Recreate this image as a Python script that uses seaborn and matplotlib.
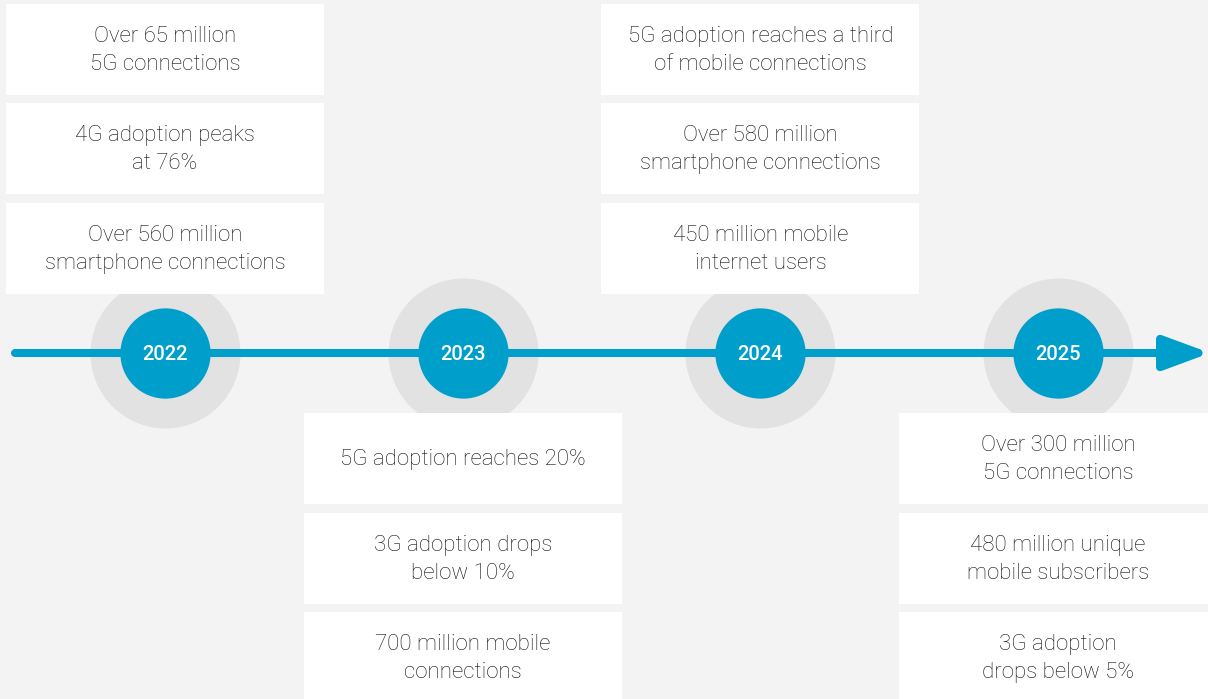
import matplotlib
matplotlib.use("Agg")
import matplotlib.pyplot as plt
from matplotlib.patches import Rectangle
import seaborn as sns
import pandas as pd

# ------------------- Data -------------------
years = [2022, 2023, 2024, 2025]
side = ["above", "below", "above", "below"]

milestones_2022 = ["Over 65 million\n5G connections",
                   "4G adoption peaks\nat 76%",
                   "Over 560 million\nsmartphone connections"]
milestones_2023 = ["5G adoption reaches 20%",
                   "3G adoption drops\nbelow 10%",
                   "700 million mobile\nconnections"]
milestones_2024 = ["5G adoption reaches a third\nof mobile connections",
                   "Over 580 million\nsmartphone connections",
                   "450 million mobile\ninternet users"]
milestones_2025 = ["Over 300 million\n5G connections",
                   "480 million unique\nmobile subscribers",
                   "3G adoption\ndrops below 5%"]
milestones = [milestones_2022, milestones_2023, milestones_2024, milestones_2025]

# ------------------- Style -------------------
BG = "#f3f3f3"
BLUE = "#009ecb"
HALO = "#e2e2e2"
TEXT = "#111111"

sns.set_theme(style="white")
plt.rcParams["font.family"] = ["Roboto", "DejaVu Sans"]

fig = plt.figure(figsize=(12.08, 6.99), dpi=100, facecolor=BG)
ax = fig.add_axes([0, 0, 1, 1])
ax.set_facecolor(BG)

# x in years, y in pixel rows (top = 0)
px_per_year = 297.7
x0 = 2022 - 165 / px_per_year
ax.set_xlim(x0, x0 + 1208 / px_per_year)
ax.set_ylim(699, 0)
ax.axis("off")

line_y = 353
box_w = 318 / px_per_year
box_h = 91
above_tops = [4, 103, 203]
below_tops = [413, 513, 612]

# timeline arrow
ax.annotate("", xy=(x0 + 1210 / px_per_year, line_y), xytext=(x0 + 15 / px_per_year, line_y),
            arrowprops=dict(arrowstyle="-|>,head_length=2.3,head_width=0.85",
                            lw=5.8, color=BLUE, shrinkA=0, shrinkB=0),
            annotation_clip=False, zorder=2)

df = pd.DataFrame({"year": years, "y": [line_y] * 4})
sns.scatterplot(data=df, x="year", y="y", s=108 ** 2, color=HALO,
                linewidth=0, ax=ax, zorder=1, legend=False)
sns.scatterplot(data=df, x="year", y="y", s=65 ** 2, color=BLUE,
                linewidth=0, ax=ax, zorder=3, legend=False)
ax.set_xlabel("")
ax.set_ylabel("")

for yr in years:
    ax.text(yr, line_y + 1, str(yr), ha="center", va="center", color="white",
            fontsize=14.5, fontweight="medium", zorder=4)

# milestone boxes
for yr, sd, items in zip(years, side, milestones):
    tops = above_tops if sd == "above" else below_tops
    for top, label in zip(tops, items):
        ax.add_patch(Rectangle((yr - box_w / 2, top), box_w, box_h,
                               facecolor="white", edgecolor="none", zorder=2))
        ax.text(yr, top + box_h / 2 + 1, label, ha="center", va="center",
                color=TEXT, fontsize=16, fontweight="light",
                linespacing=1.45, zorder=3)

fig.savefig("out.png", dpi=100, facecolor=BG)
